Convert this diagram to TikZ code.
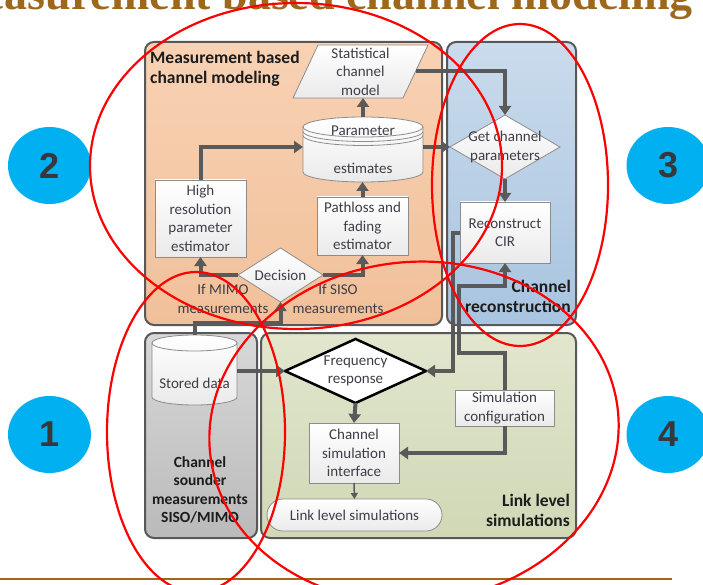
\documentclass[tikz,border=0pt]{standalone}
\usepackage{fontspec}
\setmainfont{Carlito}
\newfontfamily\titlefont{Liberation Serif}
\newfontfamily\digitfont{Liberation Sans}
\usetikzlibrary{arrows.meta,shapes.geometric}

\definecolor{titlebrown}{RGB}{158,104,28}
\definecolor{panelline}{RGB}{88,88,88}
\definecolor{flowgray}{RGB}{90,90,90}
\definecolor{boxline}{RGB}{140,140,140}
\definecolor{boxshade}{RGB}{234,234,234}
\definecolor{txt}{RGB}{62,62,72}
\definecolor{labeltxt}{RGB}{28,28,28}
\definecolor{peachtop}{RGB}{248,210,180}
\definecolor{peachbot}{RGB}{241,192,154}
\definecolor{bluetop}{RGB}{202,219,236}
\definecolor{bluebot}{RGB}{168,196,224}
\definecolor{greytop}{RGB}{216,216,216}
\definecolor{greybot}{RGB}{186,186,186}
\definecolor{greentop}{RGB}{225,230,205}
\definecolor{greenbot}{RGB}{208,216,182}
\definecolor{dotblue}{RGB}{0,176,240}
\definecolor{digitgray}{RGB}{55,55,60}

\begin{document}
\begin{tikzpicture}[x=1pt, y=-1pt,
  panel/.style={draw=panelline, line width=2pt, rounded corners=9pt},
  flowbox/.style={draw=boxline, line width=0.8pt, top color=white, bottom color=boxshade},
  slot/.style={inner sep=0pt, outer sep=0pt, text=txt, align=center, font=\fontsize{15}{18.5}\selectfont},
  boxnode/.style={flowbox, slot},
  flow/.style={draw=flowgray, line width=4pt, -{Triangle[length=9pt,width=12pt]}},
  thinflow/.style={draw=flowgray, line width=1.5pt, -{Triangle[length=6pt,width=7pt]}},
  paneltitle/.style={inner sep=0pt, text=labeltxt, font=\bfseries\fontsize{17.5}{20}\selectfont},
  numdot/.style={ellipse, fill=dotblue, minimum width=83pt, minimum height=77pt, inner sep=0pt,
                 text=digitgray, font=\digitfont\bfseries\fontsize{36}{36}\selectfont},
  redring/.style={draw=red, line width=2.2pt}]

\path[use as bounding box, clip] (0,0) rectangle (703,585);

% heading strip and rule
\node[anchor=base east, inner sep=0pt, text=titlebrown,
      font=\titlefont\bfseries\fontsize{46}{46}\selectfont] (title) at (693,10)
      {Measurement based channel modeling};
\draw[titlebrown, line width=2.5pt] (0,579) -- (672,579);

% the four panels
\draw[panel, top color=peachtop, bottom color=peachbot] (145,42) rectangle (442,325);
\draw[panel, top color=bluetop, bottom color=bluebot] (447,42) rectangle (576,325);
\draw[panel, top color=greytop, bottom color=greybot] (145,333) rectangle (257,538);
\draw[panel, top color=greentop, bottom color=greenbot] (261,333) rectangle (576,538);

\node[paneltitle, anchor=north west, align=left] (modeltitle) at (150,51)
  {Measurement based\\channel modeling};
\node[paneltitle, anchor=south east, align=right] (recontitle) at (571,313)
  {Channel\\reconstruction};
\node[paneltitle, anchor=south east, align=right] (linktitle) at (570,527)
  {Link level\\simulations};
\node[paneltitle, anchor=north, align=center, font=\bfseries\fontsize{15.5}{18.5}\selectfont]
  (soundertitle) at (200,456) {Channel\\sounder\\measurements\\SISO/MIMO};

% statistical channel model (parallelogram)
\draw[flowbox] (293,98) -- (318,45) -- (428,45) -- (403,98) -- cycle;
\node[slot, minimum width=110pt, minimum height=53pt] (stat) at (360.5,71.5)
  {Statistical\\channel\\model};

% parameter estimates (stacked cylinder)
\draw[flowbox] (303,127) -- (303,172) arc[start angle=180, end angle=0, x radius=60, y radius=10]
  -- (423,127) arc[start angle=0, end angle=-180, x radius=60, y radius=10] -- cycle;
\draw[boxline, line width=0.8pt] (303,127) arc[start angle=180, end angle=0, x radius=60, y radius=10];
\draw[boxline, line width=0.8pt] (303,131.5) arc[start angle=180, end angle=0, x radius=60, y radius=10];
\draw[boxline, line width=0.8pt] (303,135.5) arc[start angle=180, end angle=0, x radius=60, y radius=10];
\node[slot, minimum width=120pt, minimum height=65pt] (param) at (363,149.5) {};
\node[slot] (paramtop) at (363,131) {Parameter};
\node[slot] (parambottom) at (363,168) {estimates};

% estimators
\node[boxnode, minimum width=91pt, minimum height=77pt] (hires) at (200.5,218.5)
  {High\\resolution\\parameter\\estimator};
\node[boxnode, minimum width=91pt, minimum height=58pt] (pathloss) at (362.5,226)
  {Pathloss and\\fading\\estimator};

% decision
\draw[flowbox] (280.5,248) -- (323,275) -- (280.5,302) -- (238,275) -- cycle;
\node[slot, minimum width=85pt, minimum height=54pt] (decision) at (280.5,275) {Decision};
\node[slot] (mimo) at (223,299) {If MIMO\\measurements};
\node[slot] (siso) at (338,299) {If SISO\\measurements};

% channel reconstruction
\draw[flowbox] (505,115) -- (560,147) -- (505,179) -- (450,147) -- cycle;
\node[slot, minimum width=110pt, minimum height=64pt] (getch) at (505,147)
  {Get channel\\parameters};
\node[boxnode, minimum width=90pt, minimum height=61pt] (cir) at (505,232.5)
  {Reconstruct\\CIR};

% stored data (cylinder)
\draw[flowbox] (152,343) -- (152,397) arc[start angle=180, end angle=0, x radius=42.5, y radius=8]
  -- (237,343) arc[start angle=0, end angle=-180, x radius=42.5, y radius=8] -- cycle;
\draw[boxline, line width=0.8pt] (152,343) arc[start angle=180, end angle=0, x radius=42.5, y radius=8];
\node[slot, minimum width=85pt, minimum height=70pt] (stored) at (194.5,370) {};
\node[slot] (storedtext) at (194.5,383) {Stored data};

% link level simulation chain
\draw[black, line width=2.5pt, fill=white] (355.5,339) -- (426,371) -- (355.5,403) -- (285,371) -- cycle;
\node[slot, minimum width=141pt, minimum height=64pt] (freq) at (355.5,371)
  {Frequency\\response};
\node[boxnode, minimum width=90pt, minimum height=60pt] (csi) at (354,453)
  {Channel\\simulation\\interface};
\node[boxnode, minimum width=99pt, minimum height=36pt] (simcfg) at (504.5,408)
  {Simulation\\configuration};
\node[boxnode, rounded corners=16pt, minimum width=175pt, minimum height=32pt] (lls) at (354.5,515)
  {Link level simulations};

% connectors
\coordinate (cfglow) at (459,353);
\coordinate (cfghigh) at (459,286);
\draw[flow] (stored.north) -- ++(0,-12) -| (decision.south);
\draw[flow] (decision.west) -| (hires.south);
\draw[flow] (decision.east) -| (pathloss.south);
\draw[flow] (hires.north) |- (param.west |- getch.west);
\draw[flow] (pathloss.north) -- (pathloss.north |- param.south);
\draw[flow] (param.north) -- (param.north |- stat.south);
\draw[flow] (param.east |- getch.west) -- (getch.west);
\draw[flow] (stat.east) -| (getch.north);
\draw[flow] (getch.south) -- (cir.north);
\draw[flow] (cir.west) -- ++(-7,0) |- (freq.east);
\draw[flow] (simcfg.north) |- (cfglow) -- (cfghigh) -| (cir.south);
\draw[flow] (simcfg.south) |- (csi.east);
\draw[flow] (freq.south) -- (csi.north);
\draw[flow] (stored.east |- freq.west) -- (freq.west);
\draw[thinflow] (csi.south) -- (lls.north);

% numbered markers
\node[numdot] (n2) at (49.5,165.5) {2};
\node[numdot] (n3) at (668,165.5) {3};
\node[numdot] (n1) at (49.5,434.5) {1};
\node[numdot] (n4) at (668,434.5) {4};

% hand-drawn emphasis rings
\draw[redring] (296,166) ellipse [x radius=206, y radius=163];
\draw[redring] (520,185) ellipse [x radius=88, y radius=161];
\draw[redring] (196,432) ellipse [x radius=89, y radius=160];
\draw[redring, rotate around={6:(414,432)}] (414,432) ellipse [x radius=205, y radius=170];
\end{tikzpicture}
\end{document}
